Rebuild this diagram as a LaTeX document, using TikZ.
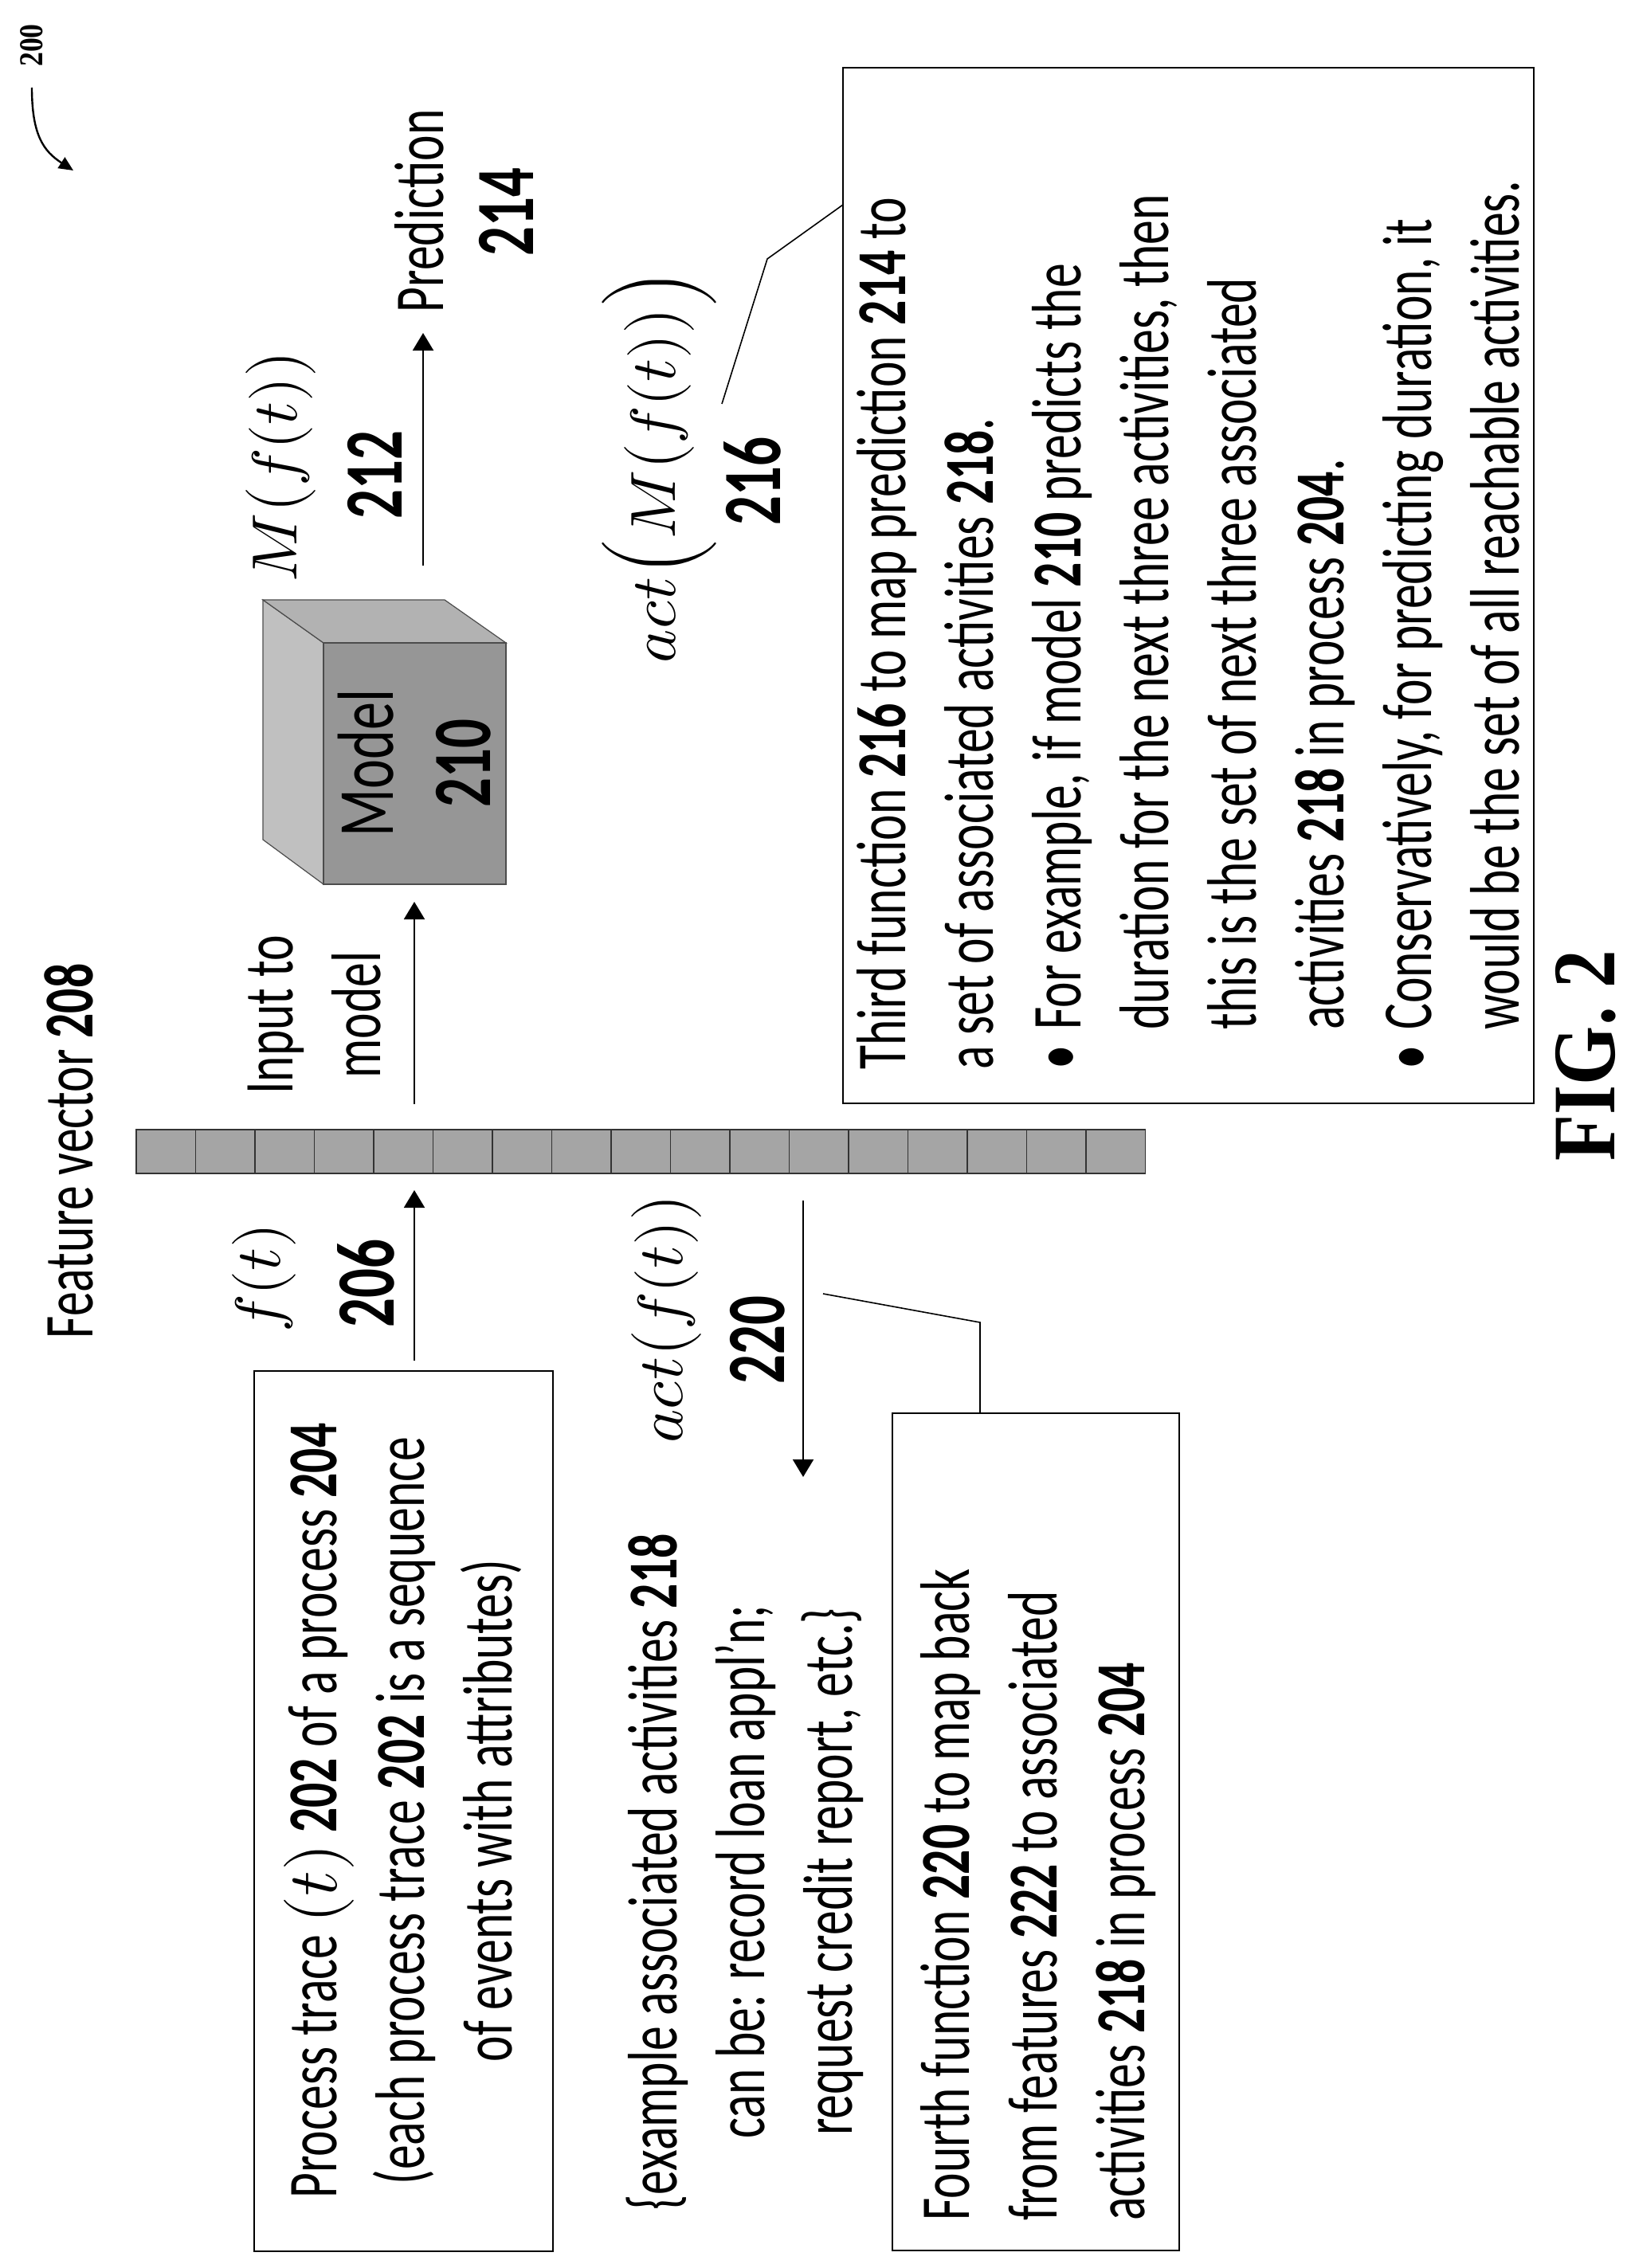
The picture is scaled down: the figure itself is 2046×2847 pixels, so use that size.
\documentclass[tikz,border=0pt]{standalone}
\usepackage{fontspec}
\usepackage{unicode-math}
\setmainfont{Carlito}[FakeStretch=0.7]
\newfontfamily\serifb{Liberation Serif}[FakeStretch=0.85]
\usetikzlibrary{arrows.meta}
\definecolor{frontc}{RGB}{150,150,150}
\definecolor{topc}{RGB}{178,178,178}
\definecolor{sidec}{RGB}{192,192,192}
\definecolor{cellc}{RGB}{165,165,165}
\tikzset{
  lbl/.style={rotate=90,inner sep=0pt,font=\fontsize{44}{55}\selectfont},
  num/.style={rotate=90,inner sep=0pt,font=\fontsize{52}{60}\selectfont\bfseries},
  mth/.style={rotate=90,inner sep=0pt,font=\fontsize{40}{48}\selectfont},
  boxline/.style={draw=black,line width=1pt},
  conn/.style={line width=1pt,-{Triangle[length=11pt,width=13pt]}},
  callout/.style={line width=0.8pt},
}
\begin{document}
\begin{tikzpicture}[x=0.5pt,y=-0.5pt]
\useasboundingbox (0,0) rectangle (2046,2847);
% figure number
\node[rotate=90,inner sep=0pt,font=\fontsize{21}{24}\selectfont\serifb\bfseries] (n200) at (40,57) {200};
\coordinate (c200a) at (40,110);
\coordinate (c200b) at (92,214);
\draw[line width=1.2pt,-{Triangle[length=9pt,width=8pt]}] (c200a) .. controls (40,170) and (55,190) .. (c200b);
% feature vector title
\node[lbl] (fvt) at (86,1445) {Feature vector \textbf{208}};
% feature vector bar
\foreach \i in {0,...,16}{
  \draw[fill=cellc,draw=black!80,line width=0.8pt] ({171+74.5*\i},1418) rectangle ({171+74.5*(\i+1)},1473);
}
\coordinate (barB) at (520,1473);
\coordinate (barT) at (520,1418);
% box 1
\draw[boxline] (319,1721) rectangle (694,2826);
\node[lbl,align=center] (b1) at (506,2273) {Process trace $(t)$ \textbf{202} of a process \textbf{204}\\(each process trace \textbf{202} is a sequence\\of events with attributes)};
\coordinate (b1top) at (520,1708);
% f(t)
\node[mth] (ft) at (331,1604) {$f(t)$};
\node[num] (n206) at (459,1611) {206};
\draw[conn] (b1top) -- (520,1494);
% input to model
\node[lbl,align=center] (inp) at (395,1274) {Input to\\model};
\coordinate (inA) at (520,1386);
\coordinate (inB) at (520,1132);
\draw[conn] (inA) -- (inB);
% cube
\fill[sidec,draw=black!70,line width=0.6pt] (330,753) -- (406,807) -- (406,1110) -- (330,1054) -- cycle;
\fill[topc,draw=black!70,line width=0.6pt] (330,753) -- (558,753) -- (635,807) -- (406,807) -- cycle;
\fill[frontc,draw=black!70,line width=0.6pt] (406,807) rectangle (635,1110);
\node[rotate=90,inner sep=0pt,font=\fontsize{50}{60}\selectfont] (model) at (459,958) {Model};
\node[num] (n210) at (582,958) {210};
% M(f(t))
\node[mth] (mft) at (352,585) {$M\bigl(f(t)\bigr)$};
\node[num] (n212) at (470,596) {212};
\coordinate (mA) at (531,710);
\coordinate (mB) at (531,418);
\draw[conn] (mA) -- (mB);
\node[lbl] (pred) at (526,265) {Prediction};
\node[num] (n214) at (635,266) {214};
% act(M(f(t)))
\node[mth] (amft) at (827,585) {$act\Bigl(M\bigl(f(t)\bigr)\Bigr)$};
\node[num] (n216) at (944,604) {216};
\coordinate (co1a) at (906,507);
\coordinate (co1b) at (963,325);
\coordinate (co1c) at (1058,257);
\draw[callout] (co1a) -- (co1b) -- (co1c);
% box 3
\draw[boxline] (1058,85) rectangle (1925,1385);
\node[lbl,anchor=north west,align=left] (b3) at (1075,1343) {Third function \textbf{216} to map prediction \textbf{214} to\\
a set of associated activities \textbf{218}.\\
\makebox[25pt][l]{•}For example, if model \textbf{210} predicts the\\
\hspace*{25pt}duration for the next three activities, then\\
\hspace*{25pt}this is the set of next three associated\\
\hspace*{25pt}activities \textbf{218} in process \textbf{204}.\\
\makebox[25pt][l]{•}Conservatively, for predicting duration, it\\
\hspace*{25pt}would be the set of all reachable activities.};
% act(f(t))
\node[mth] (aft) at (836,1655) {$act\bigl(f(t)\bigr)$};
\node[num] (n220) at (951,1682) {220};
\coordinate (aA) at (1008,1507);
\coordinate (aB) at (1008,1854);
\draw[conn] (aA) -- (aB);
% example text
\node[lbl,align=center] (ex) at (935,2350) {\{example associated activities \textbf{218}\\can be: record loan appl'n;\\request credit report, etc.\}};
% box 4
\draw[boxline] (1120,1774) rectangle (1480,2825);
\node[lbl,anchor=north west,align=left] (b4) at (1155,2788) {Fourth function \textbf{220} to map back\\from features \textbf{222} to associated\\activities \textbf{218} in process \textbf{204}};
\coordinate (co2a) at (1033,1624);
\coordinate (co2b) at (1230,1660);
\coordinate (co2c) at (1230,1774);
\draw[callout] (co2a) -- (co2b) -- (co2c);
% FIG 2
\node[rotate=90,inner sep=0pt,font=\fontsize{56}{60}\selectfont\serifb\bfseries] (fig) at (1990,1325) {FIG. 2};
\end{tikzpicture}
\end{document}
